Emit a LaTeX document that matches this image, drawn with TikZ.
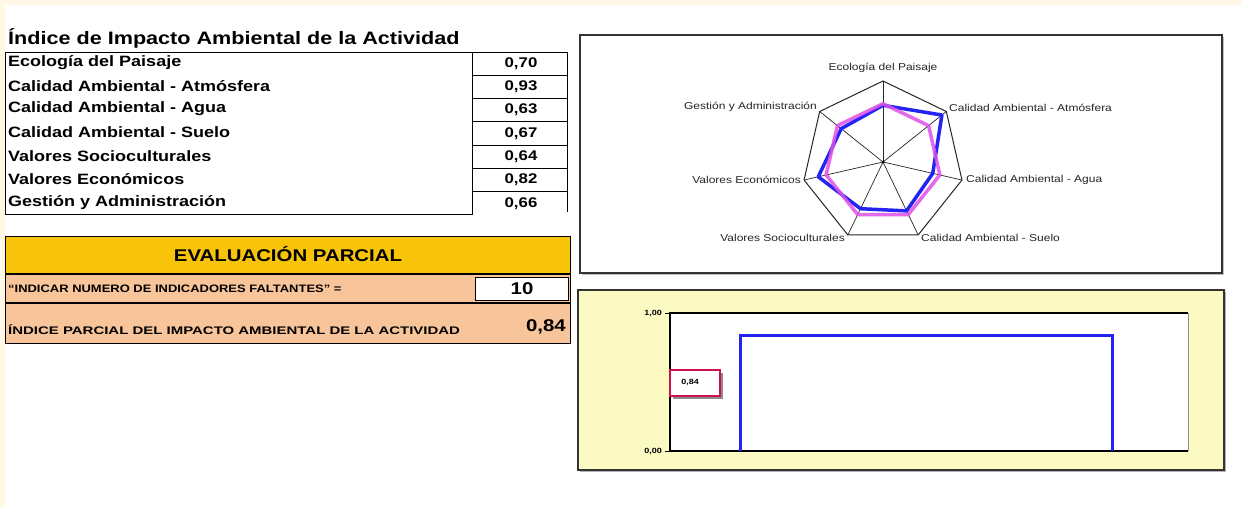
\documentclass[tikz,border=0pt]{standalone}
\usepackage{fontspec}
\setmainfont{Liberation Sans}
\usepackage{graphicx}
\definecolor{cream}{HTML}{FFF8E6}
\definecolor{gold}{HTML}{F8C40A}
\definecolor{peach}{HTML}{F8C49A}
\definecolor{paleyel}{HTML}{FBFAC2}
\definecolor{radblue}{HTML}{2424F2}
\definecolor{radmag}{HTML}{E050E8}
\definecolor{crimson}{HTML}{D0104A}
\definecolor{frame}{HTML}{333333}
\newcommand{\hs}[2][1.2]{\scalebox{#1}[1]{#2}}
\tikzset{
  lbl/.style={anchor=west, inner sep=0pt, font=\fontsize{15}{17}\selectfont\bfseries},
  val/.style={anchor=center, inner sep=0pt, font=\fontsize{14}{16}\selectfont\bfseries},
  cell/.style={draw=black, line width=1pt},
  rlab/.style={inner sep=0pt, font=\fontsize{10}{12}\selectfont, text=black!85},
  grid/.style={draw=black!85, line width=1pt},
  axlab/.style={inner sep=0pt, font=\fontsize{7.5}{9}\selectfont\bfseries},
}
\begin{document}
\begin{tikzpicture}[x=1pt,y=-1pt]
\useasboundingbox (0,0) rectangle (1242,507);
\fill[cream] (0,0) rectangle (1242,507);
\fill[white] (5,5) rectangle (1242,507);

% ---------- table ----------
\node[anchor=west, inner sep=0pt, font=\fontsize{18}{19}\selectfont\bfseries] (title) at (8,38) {\hs{Índice de Impacto Ambiental de la Actividad}};
\draw[cell] (5,52) rectangle (472,214);
\draw[cell] (472,52) -- (472,212);
\draw[cell] (567,52) -- (567,212);
\foreach \i in {0,...,6} \draw[cell] (472,{52+23.3*\i}) -- (567,{52+23.3*\i});
\foreach \t [count=\i from 0] in {Ecología del Paisaje,Calidad Ambiental - Atmósfera,Calidad Ambiental - Agua,Calidad Ambiental - Suelo,Valores Socioculturales,Valores Económicos,Gestión y Administración}
  \node[lbl] (r\i) at (8,{62.5+23.3*\i}) {\hs{\t}};
\foreach \t [count=\i from 0] in {{0,70},{0,93},{0,63},{0,67},{0,64},{0,82},{0,66}}
  \node[val] (v\i) at (521,{63.5+23.3*\i}) {\hs{\t}};

% ---------- evaluation ----------
\draw[cell, fill=gold] (5,236) rectangle (570,273);
\node[inner sep=0pt, font=\fontsize{17}{19}\selectfont\bfseries] (eval) at (288,254) {\hs{EVALUACIÓN PARCIAL}};
\draw[cell, fill=peach] (5,274) rectangle (570,302);
\node[anchor=west, inner sep=0pt, font=\fontsize{10.8}{12}\selectfont\bfseries] (ind) at (8,289) {\hs{“INDICAR NUMERO DE INDICADORES FALTANTES” =}};
\draw[cell, fill=white] (475,277) rectangle (568,300);
\node[inner sep=0pt, font=\fontsize{17}{18}\selectfont\bfseries] (ten) at (522,289) {\hs{10}};
\draw[cell, fill=peach] (5,303) rectangle (570,343);
\node[anchor=west, inner sep=0pt, font=\fontsize{11}{12}\selectfont\bfseries] (ipar) at (8,330) {\hs[1.36]{ÍNDICE PARCIAL DEL IMPACTO AMBIENTAL DE LA ACTIVIDAD}};
\node[anchor=east, inner sep=0pt, font=\fontsize{17}{19}\selectfont\bfseries] (ipv) at (566,327) {\hs{0,84}};

% ---------- radar chart ----------
\fill[black!25] (582,37) rectangle (1224,275);
\draw[draw=frame, line width=1.6pt, fill=white] (580,35) rectangle (1222,273);
\def\cx{883}\def\cy{162}\def\R{81}
\coordinate (c) at (\cx,\cy);
\foreach \k in {0,...,6}
  \coordinate (g\k) at ({\cx+\R*sin(\k*360/7)},{\cy-\R*cos(\k*360/7)});
\draw[grid] (g0)--(g1)--(g2)--(g3)--(g4)--(g5)--(g6)--cycle;
\foreach \k in {0,...,6} \draw[grid, line width=0.7pt] (c)--(g\k);
\fill (c) circle (1.5);
\foreach \v [count=\k from 0] in {0.70,0.93,0.63,0.67,0.64,0.82,0.66}
  \coordinate (b\k) at ({\cx+\v*\R*sin(\k*360/7)},{\cy-\v*\R*cos(\k*360/7)});
\foreach \k in {0,...,6}
  \coordinate (m\k) at ({\cx+0.72*\R*sin(\k*360/7)},{\cy-0.72*\R*cos(\k*360/7)});
\draw[radblue, line width=3.5pt, line join=round] (b0)--(b1)--(b2)--(b3)--(b4)--(b5)--(b6)--cycle;
\draw[radmag, opacity=0.85, line width=3.5pt, line join=round] (m0)--(m1)--(m2)--(m3)--(m4)--(m5)--(m6)--cycle;
\node[rlab] (l0) at (883,68) {\hs{Ecología del Paisaje}};
\node[rlab, anchor=west] (l1) at (949,108) {\hs{Calidad Ambiental - Atmósfera}};
\node[rlab, anchor=west] (l2) at (966,180) {\hs{Calidad Ambiental - Agua}};
\node[rlab, anchor=west] (l3) at (921,238) {\hs{Calidad Ambiental - Suelo}};
\node[rlab, anchor=east] (l4) at (845,238) {\hs{Valores Socioculturales}};
\node[rlab, anchor=east] (l5) at (801,180) {\hs{Valores Económicos}};
\node[rlab, anchor=east] (l6) at (817,107) {\hs{Gestión y Administración}};

% ---------- bar chart ----------
\fill[black!30] (580,292) rectangle (1226,472);
\draw[draw=frame, line width=1.4pt, fill=paleyel] (578,290) rectangle (1224,470);
\fill[white] (670,313) rectangle (1188,451);
\draw[black!45, line width=1pt] (1188,313) -- (1188,451);
\draw[black, line width=1.2pt] (1188,313) -- (670,313) -- (670,451) -- (1188,451);
\draw[black, line width=1pt] (665,313) -- (670,313) (665,451) -- (670,451);
\node[axlab, anchor=east] (y1) at (662,313) {\hs{1,00}};
\node[axlab, anchor=east] (y0) at (662,451) {\hs{0,00}};
\draw[radblue, line width=3pt] (740,451) -- (740,335) -- (1112,335) -- (1112,451);
\fill[black!45] (673,373) rectangle (723,399);
\draw[crimson, line width=2.2pt, fill=white] (670,370) rectangle (720,396);
\node[axlab] (dl) at (690,382) {\hs{0,84}};
\end{tikzpicture}
\end{document}
